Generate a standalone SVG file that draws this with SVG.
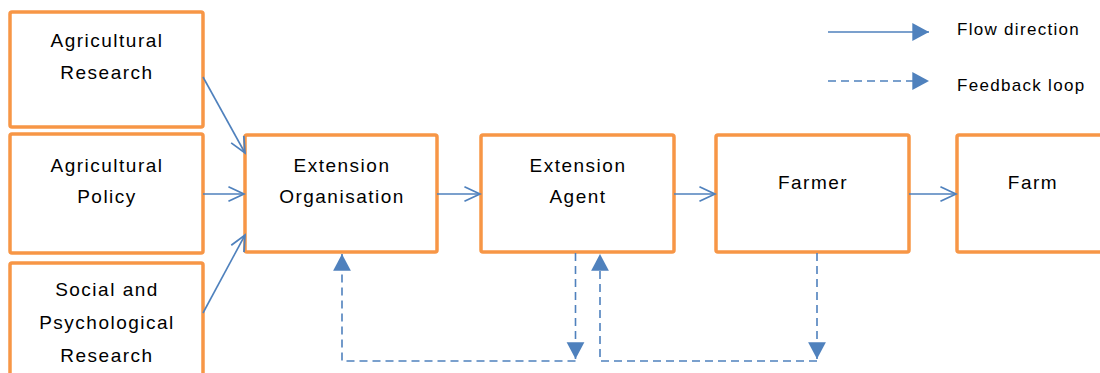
<svg xmlns="http://www.w3.org/2000/svg" width="1100" height="373" viewBox="0 0 1100 373">
<defs>
<style>
.box{fill:#fff;stroke:#F79646;stroke-width:3.5}
.t{font-family:"Liberation Sans",Arial,sans-serif;font-size:19px;letter-spacing:1.5px;fill:#000;text-anchor:middle}
.lg{font-family:"Liberation Sans",Arial,sans-serif;font-size:17px;letter-spacing:1.3px;fill:#000}
.c{fill:none;stroke:#4F81BD;stroke-width:1.6}
.d{fill:none;stroke:#4F81BD;stroke-width:1.6;stroke-dasharray:8 5}
</style>
<marker id="open" markerUnits="userSpaceOnUse" markerWidth="20" markerHeight="20" viewBox="-16 -8 18 16" refX="0" refY="0" orient="auto">
<path d="M-14,-6.5 L0,0 L-14,6.5" fill="none" stroke="#4F81BD" stroke-width="1.6"/>
</marker>
<marker id="fill" markerUnits="userSpaceOnUse" markerWidth="20" markerHeight="20" viewBox="-16 -9 18 18" refX="0" refY="0" orient="auto">
<path d="M-15,-8 L0,0 L-15,8 Z" fill="#4F81BD"/>
</marker>
</defs>
<rect width="1100" height="373" fill="#fff"/>
<g id="n-agri-research"><rect class="box" x="10" y="12" width="193" height="115" rx="2"/>
<text class="t" x="107" y="47">Agricultural</text><text class="t" x="107" y="79">Research</text></g>
<g id="n-agri-policy"><rect class="box" x="10" y="134" width="193" height="119" rx="2"/>
<text class="t" x="107" y="172">Agricultural</text><text class="t" x="107" y="203">Policy</text></g>
<g id="n-social"><rect class="box" x="10" y="263" width="193" height="130" rx="2"/>
<text class="t" x="107" y="296">Social and</text><text class="t" x="107" y="329">Psychological</text><text class="t" x="107" y="362">Research</text></g>
<g id="n-ext-org"><rect class="box" x="245" y="135" width="192" height="117" rx="2"/>
<text class="t" x="342" y="172">Extension</text><text class="t" x="342" y="203">Organisation</text></g>
<g id="n-ext-agent"><rect class="box" x="481" y="135" width="193" height="117" rx="2"/>
<text class="t" x="578" y="172">Extension</text><text class="t" x="578" y="203">Agent</text></g>
<g id="n-farmer"><rect class="box" x="716" y="135" width="193" height="117" rx="2"/>
<text class="t" x="813" y="189">Farmer</text></g>
<g id="n-farm"><rect class="box" x="957" y="135" width="193" height="117" rx="2"/>
<text class="t" x="1033" y="189">Farm</text></g>
<g id="connectors">
<line class="c" x1="203" y1="77" x2="245" y2="153" marker-end="url(#open)"/>
<line class="c" x1="203" y1="194" x2="244" y2="194" marker-end="url(#open)"/>
<line class="c" x1="203" y1="313" x2="245" y2="235" marker-end="url(#open)"/>
<line class="c" x1="437" y1="194" x2="480" y2="194" marker-end="url(#open)"/>
<line class="c" x1="674" y1="194" x2="715" y2="194" marker-end="url(#open)"/>
<line class="c" x1="909" y1="194" x2="956" y2="194" marker-end="url(#open)"/>
<path class="d" d="M575.5,253 V359" marker-end="url(#fill)"/>
<path class="d" d="M575.5,361 H342 V254" marker-end="url(#fill)"/>
<path class="d" d="M817,253 V359" marker-end="url(#fill)"/>
<path class="d" d="M817,361 H600 V254" marker-end="url(#fill)"/>
</g>
<g id="legend">
<line class="c" x1="828" y1="32" x2="929" y2="32" marker-end="url(#fill)"/>
<text class="lg" x="957" y="35">Flow direction</text>
<line class="d" x1="828" y1="81" x2="929" y2="81" marker-end="url(#fill)"/>
<text class="lg" x="957" y="91">Feedback loop</text>
</g>
</svg>
